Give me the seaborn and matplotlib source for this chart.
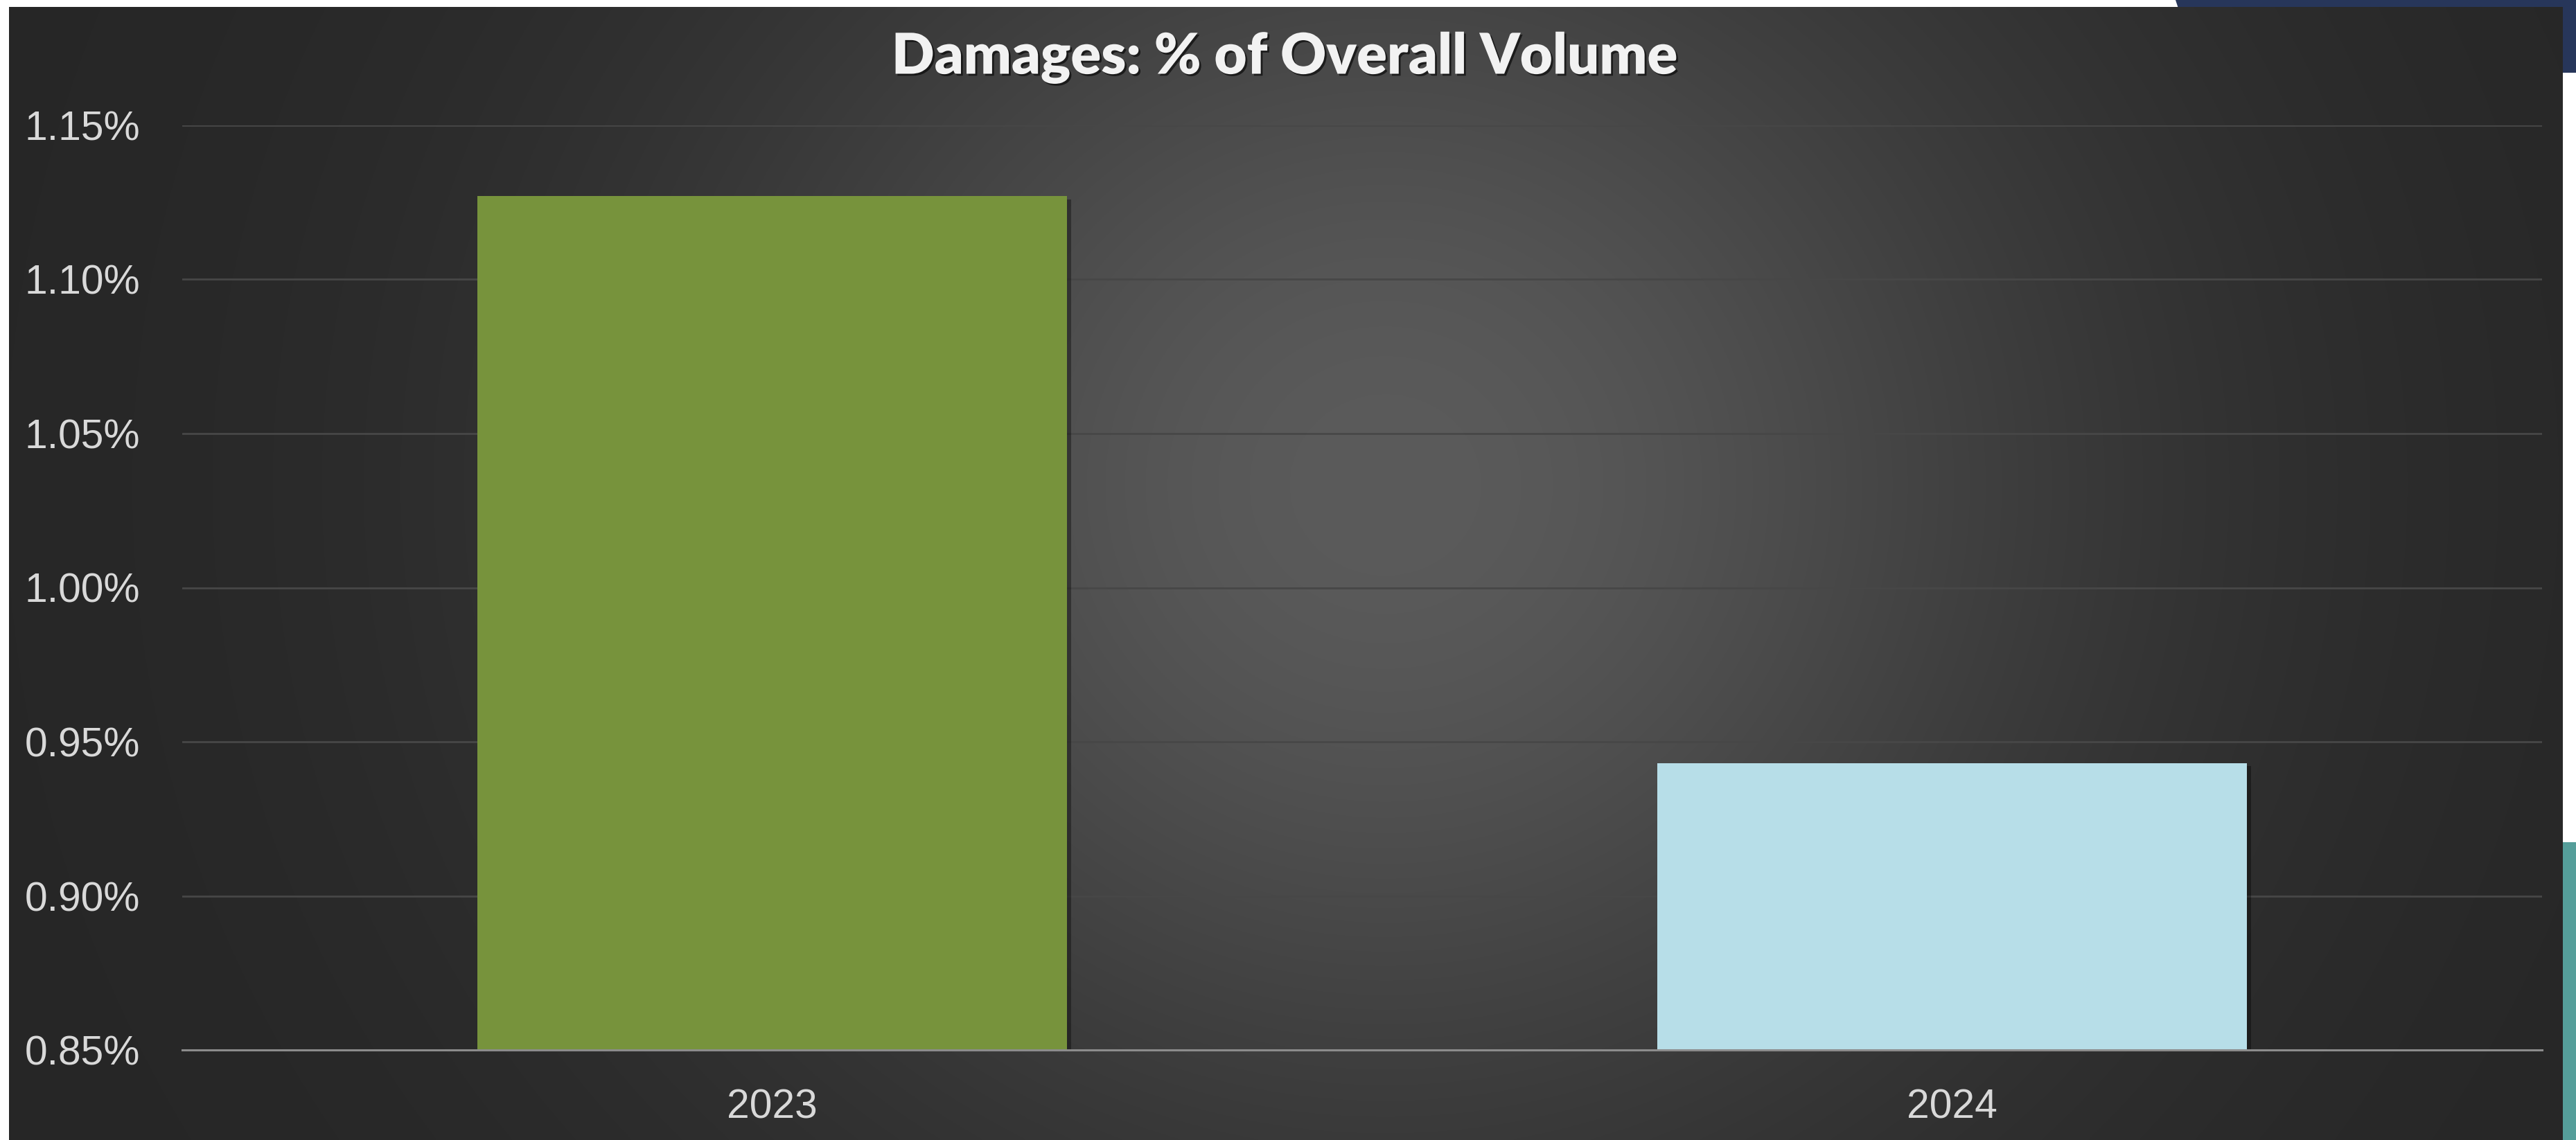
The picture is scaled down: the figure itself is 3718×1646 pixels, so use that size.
import numpy as np
import pandas as pd
import matplotlib
matplotlib.use("Agg")
import matplotlib.pyplot as plt
import matplotlib.patheffects as pe
from matplotlib.patches import Rectangle, Polygon
from matplotlib.ticker import FuncFormatter
import seaborn as sns

# Chart data
years = ["2023", "2024"]
damage_pct = [1.127, 0.943]
bar_colors = ["#77933C", "#B7DEE8"]
y_ticks = [0.85, 0.90, 0.95, 1.00, 1.05, 1.10, 1.15]
title_text = "Damages: % of Overall Volume"

W, H = 3718, 1646
DPI = 100

sns.set_theme(style="dark")
plt.rcParams["font.family"] = ["Liberation Sans", "DejaVu Sans"]

fig = plt.figure(figsize=(W / DPI, H / DPI), dpi=DPI, facecolor="white")

# Background layer in pixel coordinates
bg = fig.add_axes([0, 0, 1, 1])
bg.axis("off")

# Slide accents behind the panel
bg.add_patch(Polygon([(3140, 0), (W, 0), (W, 105), (3175, 105)],
                     closed=True, facecolor="#27365A", lw=0, zorder=1))
bg.add_patch(Rectangle((3690, 1216), W - 3690, H - 1216,
                       facecolor="#559E9A", lw=0, zorder=1))

# Dark panel with a soft radial glow
px0, px1, py0, py1 = 13, 3699, 10, H
nx, ny = 1200, 540
xs = np.linspace(px0, px1, nx)
ys = np.linspace(py0, py1, ny)
X, Y = np.meshgrid(xs, ys)
d2 = ((X - 2000) / 1000) ** 2 + ((Y - 700) / 950) ** 2
v = (38 + 53 * np.exp(-d2)) / 255.0
img = np.dstack([v, v, v])
bg.imshow(img, extent=(px0, px1, py1, py0), interpolation="bilinear",
          aspect="auto", zorder=2)
bg.set_xlim(0, W)
bg.set_ylim(H, 0)

# Main chart axes
ax_left, ax_right, ax_top, ax_bottom = 263, 3669, 181, 1516
ax = fig.add_axes([ax_left / W, (H - ax_bottom) / H,
                   (ax_right - ax_left) / W, (ax_bottom - ax_top) / H])
ax.patch.set_alpha(0)

data = pd.DataFrame({"year": years, "pct": damage_pct})
sns.barplot(data=data, x="year", y="pct", hue="year", palette=bar_colors,
            width=0.5, saturation=1, legend=False, ax=ax, zorder=3)

for p in ax.patches:
    p.set_linewidth(0)
    p.set_path_effects([pe.SimplePatchShadow(offset=(4, -3), shadow_rgbFace="black", alpha=0.35),
                        pe.Normal()])

ax.set_xlim(-0.5, 1.5)
ax.set_ylim(0.85, 1.15)
ax.set_yticks(y_ticks)
ax.yaxis.set_major_formatter(FuncFormatter(lambda val, _: f"{val:.2f}%"))
ax.set_xlabel("")
ax.set_ylabel("")

ax.grid(axis="y", color="#474747", linewidth=2)
ax.grid(axis="x", visible=False)
ax.set_axisbelow(True)

for side in ["top", "right", "left"]:
    ax.spines[side].set_visible(False)
ax.spines["bottom"].set_color("#8c8c8c")
ax.spines["bottom"].set_linewidth(2.2)
ax.spines["bottom"].set_zorder(4)

ax.tick_params(axis="y", length=0, labelsize=42.3, labelcolor="#d9d9d9", pad=44)
ax.tick_params(axis="x", length=0, labelsize=42.3, labelcolor="#d9d9d9", pad=40)

# Title
fig.text(1854 / W, 1 - 84 / H, title_text, ha="center", va="center",
         fontsize=58.5, fontweight="heavy", color="#f2f2f2",
         family=["Lato", "DejaVu Sans"],
         path_effects=[pe.withSimplePatchShadow(offset=(2, -2), shadow_rgbFace="black", alpha=0.6)])

fig.savefig("out.png", dpi=DPI, facecolor=fig.get_facecolor())
